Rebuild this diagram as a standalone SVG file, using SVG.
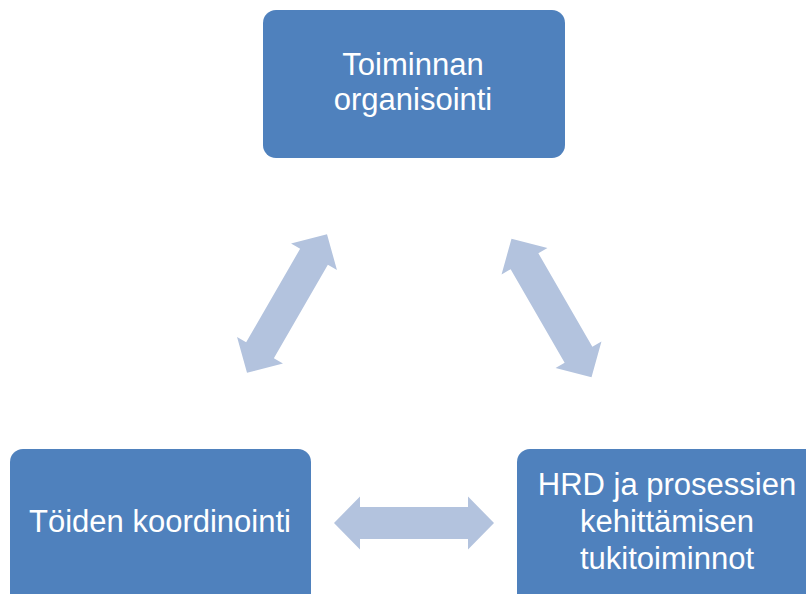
<svg xmlns="http://www.w3.org/2000/svg" width="806" height="594" viewBox="0 0 806 594">
  <style>
    .box { fill: #4F81BD; }
    .lbl { fill: #FFFFFF; font-family: "Liberation Sans", Arial, sans-serif; font-size: 31px; text-anchor: middle; }
    .arr { fill: #B3C3DE; }
  </style>
  <defs>
    <polygon id="dbl" points="-80,0 -54,-26.5 -54,-16 54,-16 54,-26.5 80,0 54,26.5 54,16 -54,16 -54,26.5"/>
  </defs>
  <rect width="806" height="594" fill="#FFFFFF"/>
  <g id="connectors">
    <use href="#dbl" class="arr" transform="translate(287,303.5) rotate(-60)"/>
    <use href="#dbl" class="arr" transform="translate(551.5,308) rotate(60)"/>
    <use href="#dbl" class="arr" transform="translate(414,523)"/>
  </g>
  <g id="node-top">
    <rect class="box" x="263" y="10" width="302" height="148" rx="13"/>
    <text class="lbl" x="413" y="75">Toiminnan</text>
    <text class="lbl" x="413" y="110">organisointi</text>
  </g>
  <g id="node-left">
    <rect class="box" x="10" y="449" width="301" height="160" rx="13"/>
    <text class="lbl" x="160" y="532">Töiden koordinointi</text>
  </g>
  <g id="node-right">
    <rect class="box" x="517" y="449" width="301" height="160" rx="13"/>
    <text class="lbl" x="667" y="495">HRD ja prosessien</text>
    <text class="lbl" x="667" y="532">kehittämisen</text>
    <text class="lbl" x="667" y="569">tukitoiminnot</text>
  </g>
</svg>
